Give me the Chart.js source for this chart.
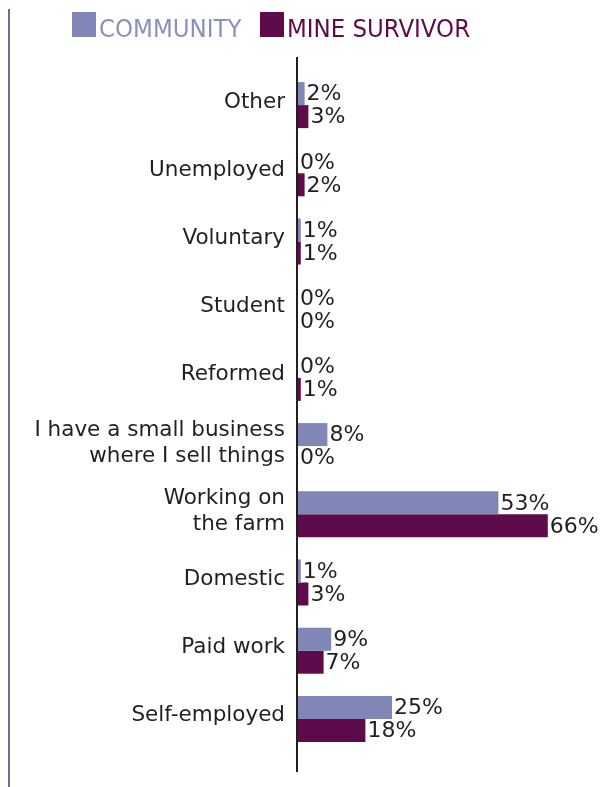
<!DOCTYPE html>
<html>
<head>
<meta charset="utf-8">
<title>Occupation</title>
<script src="https://cdn.jsdelivr.net/npm/chart.js@4.4.1/dist/chart.umd.min.js"></script>
<style>
  html, body { margin: 0; padding: 0; background: #fff; }
  #wrap { position: relative; width: 606px; height: 787px; }
</style>
</head>
<body>
<div id="wrap"><canvas id="chart1"></canvas></div>
<script>
var occupations = [
  "Other",
  "Unemployed",
  "Voluntary",
  "Student",
  "Reformed",
  ["I have a small business", "where I sell things"],
  ["Working on", "the farm"],
  "Domestic",
  "Paid work",
  "Self-employed"
];
var community = [2, 0, 1, 0, 0, 8, 53, 1, 9, 25];
var mineSurvivor = [3, 2, 1, 0, 1, 0, 66, 3, 7, 18];

var communityColor = "#8086b6";
var survivorColor = "#5e0b4b";
var textColor = "#231f20";

// legend, frame line and axis drawn on the canvas
var decorations = {
  id: "decorations",
  beforeDraw: function (chart) {
    var ctx = chart.ctx;
    ctx.save();
    ctx.fillStyle = "#6b6e8e";
    ctx.fillRect(8, 9, 2, chart.height - 9);

    var legendX = [72, 260];
    var legendText = ["#8a8fbd", survivorColor];
    ctx.font = "25.5px 'Liberation Sans Narrow', 'DejaVu Sans Condensed', sans-serif";
    ctx.textBaseline = "alphabetic";
    chart.data.datasets.forEach(function (ds, i) {
      ctx.fillStyle = ds.backgroundColor;
      ctx.fillRect(legendX[i], 12, 24, 25);
      ctx.fillStyle = legendText[i];
      ctx.fillText(ds.label, legendX[i] + 27, 37);
    });
    ctx.restore();
  },
  afterDatasetsDraw: function (chart) {
    var ctx = chart.ctx;
    var area = chart.chartArea;
    ctx.save();
    ctx.fillStyle = textColor;
    ctx.fillRect(area.left - 1, area.top - 14, 2, area.bottom - area.top + 33);

    ctx.font = "22px 'DejaVu Sans', sans-serif";
    ctx.textAlign = "left";
    ctx.textBaseline = "middle";
    chart.data.datasets.forEach(function (ds, i) {
      chart.getDatasetMeta(i).data.forEach(function (bar, j) {
        ctx.fillText(ds.data[j] + "%", Math.max(bar.x, area.left + 1) + 2, bar.y + 1);
      });
    });
    ctx.restore();
  }
};

var ctx = document.getElementById("chart1");
var myChart = new Chart(ctx, {
  type: "bar",
  data: {
    labels: occupations,
    datasets: [
      {
        label: "COMMUNITY",
        data: community,
        backgroundColor: communityColor,
        borderWidth: 0
      },
      {
        label: "MINE SURVIVOR",
        data: mineSurvivor,
        backgroundColor: survivorColor,
        borderWidth: 0
      }
    ]
  },
  options: {
    indexAxis: "y",
    responsive: true,
    maintainAspectRatio: false,
    animation: false,
    categoryPercentage: 0.675,
    barPercentage: 1,
    layout: { padding: { top: 71, bottom: 34, right: 5, left: 0 } },
    plugins: {
      legend: { display: false },
      tooltip: { enabled: false }
    },
    scales: {
      x: {
        display: false,
        min: 0,
        max: 80
      },
      y: {
        grid: { display: false, drawTicks: false },
        border: { display: false },
        ticks: {
          color: textColor,
          padding: 12,
          labelOffset: -3,
          font: { family: "'DejaVu Sans', sans-serif", size: 21.5, lineHeight: 1.21 }
        },
        afterFit: function (scale) {
          scale.width = 297;
        }
      }
    }
  },
  plugins: [decorations]
});
</script>
</body>
</html>
